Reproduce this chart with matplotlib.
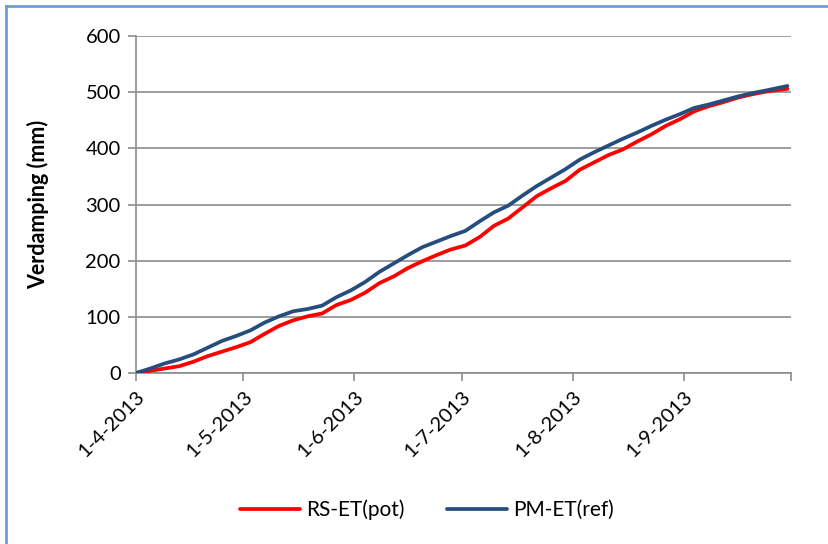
import matplotlib
matplotlib.use("Agg")
import matplotlib.pyplot as plt
import matplotlib.dates as mdates
from matplotlib.lines import Line2D
import datetime as dt

dates = ["2013-04-01", "2013-04-05", "2013-04-09", "2013-04-13", "2013-04-17", "2013-04-21",
         "2013-04-25", "2013-04-29", "2013-05-03", "2013-05-07", "2013-05-11", "2013-05-15",
         "2013-05-19", "2013-05-23", "2013-05-27", "2013-05-31", "2013-06-04", "2013-06-08",
         "2013-06-12", "2013-06-16", "2013-06-20", "2013-06-24", "2013-06-28", "2013-07-02",
         "2013-07-06", "2013-07-10", "2013-07-14", "2013-07-18", "2013-07-22", "2013-07-26",
         "2013-07-30", "2013-08-03", "2013-08-07", "2013-08-11", "2013-08-15", "2013-08-19",
         "2013-08-23", "2013-08-27", "2013-08-31", "2013-09-04", "2013-09-08", "2013-09-12",
         "2013-09-16", "2013-09-20", "2013-09-24", "2013-09-30"]

rs_et_pot = [0, 4, 8, 12, 20, 30, 38, 46, 55, 70, 84, 94, 101, 106, 121, 130, 143, 160,
             172, 187, 199, 210, 220, 227, 242, 262, 275, 295, 315, 329, 342, 362, 375, 388,
             398, 412, 425, 440, 452, 466, 475, 482, 490, 496, 501, 506]

pm_et_ref = [0, 8, 17, 24, 33, 45, 57, 66, 76, 90, 101, 110, 114, 120, 135, 147, 162, 180,
             195, 210, 224, 234, 244, 253, 270, 286, 298, 316, 333, 348, 363, 380, 393, 405,
             417, 428, 440, 451, 461, 472, 478, 485, 492, 498, 503, 511]

tick_dates = ["2013-04-01", "2013-05-01", "2013-06-01", "2013-07-01", "2013-08-01", "2013-09-01", "2013-10-01"]
tick_labels = ["1-4-2013", "1-5-2013", "1-6-2013", "1-7-2013", "1-8-2013", "1-9-2013", ""]

series_names = ["RS-ET(pot)", "PM-ET(ref)"]

plt.rcParams['font.family'] = ['Lato', 'DejaVu Sans']

x = [dt.datetime.strptime(d, "%Y-%m-%d") for d in dates]
xt = [dt.datetime.strptime(d, "%Y-%m-%d") for d in tick_dates]

fig = plt.figure(figsize=(8.29, 5.44), dpi=100)
ax = fig.add_axes([136/829, 1 - 373/544, (791 - 136)/829, (373 - 36)/544])

grid_c = "#8c8c8c"
ax.plot(x, rs_et_pot, color="#ff0000", lw=2.7, label=series_names[0], solid_capstyle="round", zorder=3)
ax.plot(x, pm_et_ref, color="#254e7f", lw=2.7, label=series_names[1], solid_capstyle="round", zorder=4)

ax.set_xlim(xt[0], xt[-1])
ax.set_ylim(0, 600)
ax.set_yticks(range(0, 601, 100))
ax.set_xticks(xt)
ax.set_xticklabels(tick_labels, rotation=45, ha="right", rotation_mode="anchor", fontsize=14.5)
ax.tick_params(axis="y", labelsize=14.5, length=6, color=grid_c, width=1.2, pad=5)
ax.tick_params(axis="x", length=6, color=grid_c, width=1.2, pad=5)
ax.grid(axis="y", color=grid_c, lw=1.2)
ax.set_axisbelow(True)
for s in ["top", "right"]:
    ax.spines[s].set_visible(False)
for s in ["left", "bottom"]:
    ax.spines[s].set_color(grid_c)
    ax.spines[s].set_linewidth(1.2)

ax.set_ylabel("Verdamping (mm)", fontsize=15.5, fontweight="bold", labelpad=26)

leg = fig.legend(loc="center", bbox_to_anchor=(0.515, 1 - 510/544), ncol=2, frameon=False,
                 fontsize=15, handlelength=2.9, columnspacing=2.0, handletextpad=0.3)

border_c = "#6a9fd8"
fig.add_artist(Line2D([6/829, 1], [1 - 6/544, 1 - 6/544], transform=fig.transFigure, color=border_c, lw=2))
fig.add_artist(Line2D([6/829, 6/829], [0, 1 - 6/544], transform=fig.transFigure, color=border_c, lw=2))

fig.savefig("out.png", dpi=100)
